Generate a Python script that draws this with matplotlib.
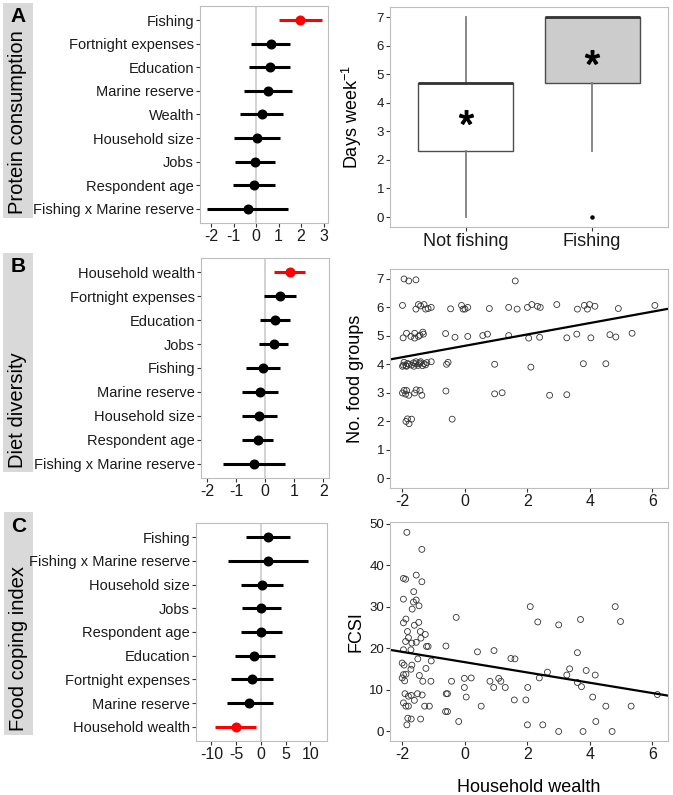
import matplotlib
matplotlib.use('Agg')
import matplotlib.pyplot as plt #use for drawing

plt.rcParams['font.family'] = 'Liberation Sans'
plt.rcParams['mathtext.fontset'] = 'custom'
plt.rcParams['mathtext.rm'] = 'Liberation Sans'
plt.rcParams['mathtext.it'] = 'Liberation Sans'
plt.rcParams['mathtext.default'] = 'regular'
plt.rcParams['axes.unicode_minus'] = False  #plain hyphen like the original

W, H = 673, 795  #figure size in pixels

#---------------- data ----------------
#A: protein consumption model (top to bottom)
a_terms = ['Fishing', 'Fortnight expenses', 'Education', 'Marine reserve', 'Wealth',
           'Household size', 'Jobs', 'Respondent age', 'Fishing x Marine reserve']
a_est = [1.97, 0.64, 0.60, 0.51, 0.25, 0.03, -0.03, -0.10, -0.37]
a_lo = [1.03, -0.25, -0.30, -0.55, -0.73, -0.97, -0.92, -1.04, -2.20]
a_hi = [2.93, 1.53, 1.49, 1.59, 1.20, 1.06, 0.86, 0.83, 1.44]
a_sig = 'Fishing'

#B: diet diversity model
b_terms = ['Household wealth', 'Fortnight expenses', 'Education', 'Jobs', 'Fishing',
           'Marine reserve', 'Household size', 'Respondent age', 'Fishing x Marine reserve']
b_est = [0.85, 0.51, 0.34, 0.30, -0.08, -0.17, -0.20, -0.25, -0.39]
b_lo = [0.31, -0.03, -0.17, -0.21, -0.67, -0.78, -0.80, -0.78, -1.46]
b_hi = [1.39, 1.05, 0.86, 0.80, 0.51, 0.45, 0.41, 0.28, 0.69]
b_sig = 'Household wealth'

#C: food coping index model
c_terms = ['Fishing', 'Fishing x Marine reserve', 'Household size', 'Jobs', 'Respondent age',
           'Education', 'Fortnight expenses', 'Marine reserve', 'Household wealth']
c_est = [1.4, 1.4, 0.2, 0.07, 0.0, -1.3, -1.75, -2.3, -5.05]
c_lo = [-3.0, -6.7, -4.0, -3.8, -4.0, -5.25, -6.1, -6.8, -9.2]
c_hi = [5.8, 9.6, 4.4, 4.1, 4.2, 2.76, 2.4, 2.36, -0.9]
c_sig = 'Household wealth'

#A right: days per week eating protein
box_groups = ['Not fishing', 'Fishing']
box_q1 = [2.3, 4.7]
box_med = [4.7, 7.0]
box_q3 = [4.7, 7.0]
box_lo = [0.0, 2.3]
box_hi = [7.0, 7.0]
box_mean = [3.5, 5.6]
box_fliers = [[], [0.0]]

#B right: household wealth vs number of food groups
wealth_b = [-1.95, -1.8, -1.57, 1.61,
            -2.0, -1.57, -1.49, -1.42, -1.31, -1.26, -1.18, -1.08, -0.46, -0.11, -0.06, 0.0, 0.09,
            0.78, 1.4, 1.67, 2.0, 2.14, 2.32, 2.41, 2.94, 3.6, 3.82, 3.92, 3.99, 4.16, 4.91, 6.08,
            -1.98, -1.87, -1.73, -1.61, -1.61, -1.49, -1.44, -1.35, -1.33, -0.62, -0.32, 0.09,
            0.57, 0.72, 1.4, 2.04, 2.39, 3.26, 3.58, 4.03, 4.64, 4.83, 5.35,
            -2.0, -1.97, -1.95, -1.89, -1.87, -1.84, -1.79, -1.71, -1.65, -1.63, -1.58, -1.57,
            -1.5, -1.47, -1.44, -1.42, -1.36, -1.31, -1.26, -1.22, -1.08, -0.59, -0.54, 0.95,
            2.11, 3.79, 4.51,
            -2.0, -1.95, -1.9, -1.87, -1.8, -1.61, -1.56, -1.44, -1.38, -0.61, 0.95, 1.19, 2.71, 3.26,
            -1.89, -1.84, -1.79, -1.71, -0.41]
groups_b = [7.0, 6.93, 6.97, 6.93,
            6.07, 5.94, 6.1, 6.05, 6.1, 5.94, 5.96, 6.0, 5.95, 6.07, 5.94, 5.94, 6.0,
            5.96, 6.0, 5.94, 6.0, 6.1, 6.04, 6.0, 6.1, 5.94, 6.07, 5.94, 6.1, 6.04, 5.96, 6.07,
            4.93, 5.09, 4.98, 5.09, 4.92, 4.98, 5.02, 5.13, 5.06, 5.08, 4.95, 4.98,
            5.01, 5.06, 5.01, 4.92, 4.95, 4.93, 5.06, 4.93, 5.04, 4.96, 5.09,
            3.93, 3.97, 4.07, 3.95, 3.93, 4.03, 4.0, 3.97, 4.05, 3.93, 4.02, 4.09,
            3.96, 4.02, 4.05, 4.09, 3.95, 4.02, 3.98, 4.06, 4.09, 4.0, 4.07, 4.0,
            3.9, 4.02, 4.02,
            2.99, 3.08, 2.95, 3.08, 2.91, 2.99, 3.1, 3.08, 2.91, 3.06, 2.96, 3.0, 2.91, 2.93,
            1.99, 2.08, 1.91, 2.07, 2.07]
b_fit = (4.65, 0.20)  #intercept, slope

#C right: household wealth vs FCSI
wealth_c = [-1.86, -1.38, -1.97, -1.9, -1.56, -1.38, -1.64, -1.97, -1.56, -1.65, -1.47, -1.69,
            -1.89, -1.97, -1.48, -1.62, -1.84, -1.43, -1.27, -1.81, -1.41, -1.9, -1.56, -1.7,
            -1.23, -1.18, -1.73, -1.97, -1.51, -1.08, -2.01, -1.95, -1.7, -1.73, -1.25, -1.97,
            -1.89, -1.46, -2.01, -1.93, -1.35, -1.09, -1.92, -1.52, -1.81, -1.72, -1.37, -1.62,
            -1.97, -1.89, -1.81, -1.29, -1.14, -1.83, -1.72, -1.42, -1.86,
            -0.6, -0.56, -0.61, -0.28, -0.62, -0.56, -0.43, -0.2, -0.02, -0.02, 0.04, 0.2, 0.4,
            0.52, 0.8, 0.92, 0.93, 1.08, 1.15, 1.29, 1.47, 1.6, 1.58, 1.95, 2.01, 2.0, 2.09,
            2.33, 2.38, 2.49, 2.64, 3.0, 3.0, 3.26, 3.35, 3.6, 3.6, 3.7, 3.73, 3.78, 3.88,
            4.09, 4.17, 4.19, 4.51, 4.71, 4.81, 4.98, 5.32, 6.16]
fcsi_c = [47.9, 43.8, 36.8, 36.6, 37.6, 36.0, 33.6, 31.8, 31.6, 31.1, 30.2, 29.4,
          27.0, 26.1, 26.2, 25.5, 24.0, 24.0, 23.3, 22.5, 22.4, 21.6, 21.4, 21.2,
          20.4, 20.4, 19.6, 19.6, 17.4, 16.9, 16.4, 15.9, 15.9, 14.9, 15.1, 13.6,
          13.7, 13.4, 12.8, 12.1, 12.0, 12.0, 9.0, 9.0, 8.4, 8.6, 8.7, 7.4,
          6.8, 6.0, 6.0, 6.0, 6.0, 3.1, 2.9, 2.9, 1.5,
          9.0, 9.0, 20.5, 27.4, 4.7, 4.7, 12.0, 2.3, 12.7, 10.5, 8.2, 12.8, 19.1,
          6.0, 12.0, 10.5, 19.4, 12.7, 12.0, 10.5, 17.5, 17.4, 7.5, 7.5, 10.5, 1.5, 30.0,
          26.3, 12.8, 1.5, 14.2, 25.6, -0.1, 13.5, 15.0, 18.9, 11.7, 26.9, 10.7, -0.1, 14.6,
          8.2, 13.5, 2.3, 6.0, -0.1, 30.0, 26.4, 6.0, 8.8]
c_fit = (16.6, -1.24)


#---------------- helpers ----------------
def add_axes_px(fig, x0, y0, x1, y1):
    #pixel box (top-left origin) -> figure axes
    return fig.add_axes([x0 / W, 1 - y1 / H, (x1 - x0) / W, (y1 - y0) / H])

def style_axes(ax):
    for s in ax.spines.values():
        s.set_color('#bdbdbd')
        s.set_linewidth(0.8)
    ax.tick_params(axis='both', direction='out', length=2.8, width=0.8, color='#333333',
                   labelcolor='#1a1a1a', pad=1.5)

def draw_coef(ax, terms, est, lo, hi, sig, xlim, xticks):
    n = len(terms)
    ypos = list(range(n, 0, -1))
    ax.axvline(0, color='#cccccc', lw=1.2, zorder=0)
    for i in range(n):
        c = 'red' if terms[i] == sig else 'black'
        ax.plot([lo[i], hi[i]], [ypos[i], ypos[i]], color=c, lw=2.2, solid_capstyle='butt')
        ax.plot(est[i], ypos[i], 'o', color=c, ms=6.2)
    ax.set_ylim(0.4, n + 0.6)
    ax.set_yticks(ypos)
    ax.set_yticklabels(terms)
    ax.set_xlim(xlim)
    ax.set_xticks(xticks)
    style_axes(ax)
    ax.tick_params(axis='y', labelsize=10.5)
    ax.tick_params(axis='x', labelsize=11.5)

def draw_strip(fig, x0, y0, x1, y1, letter, title):
    s = add_axes_px(fig, x0, y0, x1, y1)
    s.set_facecolor('#d9d9d9')
    s.set_xticks([])
    s.set_yticks([])
    for sp in s.spines.values():
        sp.set_visible(False)
    cx = (x0 + x1) / 2.0 / W
    fig.text(cx, 1 - (y0 + 14) / H, letter, fontsize=15, fontweight='bold',
             ha='center', va='center')
    fig.text(cx, 1 - (y1 - 4) / H, title, fontsize=14.5, rotation=90,
             ha='center', va='bottom')


fig = plt.figure(figsize=(W / 100, H / 100), dpi=100)

#strips with panel letters
draw_strip(fig, 3, 3, 33, 218, 'A', 'Protein consumption')
draw_strip(fig, 3, 253, 33, 472, 'B', 'Diet diversity')
draw_strip(fig, 4, 512, 33, 735, 'C', 'Food coping index')

#coefficient plots
axA = add_axes_px(fig, 200, 6, 328, 223)
draw_coef(axA, a_terms, a_est, a_lo, a_hi, a_sig, (-2.5, 3.2), [-2, -1, 0, 1, 2, 3])
axB = add_axes_px(fig, 201, 258, 329, 478)
draw_coef(axB, b_terms, b_est, b_lo, b_hi, b_sig, (-2.2, 2.2), [-2, -1, 0, 1, 2])
axC = add_axes_px(fig, 196, 523, 327, 741)
draw_coef(axC, c_terms, c_est, c_lo, c_hi, c_sig, (-13.1, 13.35), [-10, -5, 0, 5, 10])

#boxplot
axA2 = add_axes_px(fig, 390, 7, 668, 227)
stats = []
for i in range(len(box_groups)):
    stats.append(dict(label=box_groups[i], med=box_med[i], q1=box_q1[i], q3=box_q3[i],
                      whislo=box_lo[i], whishi=box_hi[i], mean=box_mean[i],
                      fliers=box_fliers[i]))
bp = axA2.bxp(stats, positions=[1, 2], widths=0.75, patch_artist=True, showcaps=False,
              showmeans=True,
              boxprops=dict(edgecolor='#4d4d4d', linewidth=1.0),
              medianprops=dict(color='#333333', linewidth=2.0),
              whiskerprops=dict(color='#7f7f7f', linewidth=1.3),
              meanprops=dict(marker='$*$', markerfacecolor='black', markeredgecolor='black',
                             markersize=10),
              flierprops=dict(marker='o', markerfacecolor='black', markeredgecolor='black',
                              markersize=2.2))
bp['boxes'][0].set_facecolor('white')
bp['boxes'][1].set_facecolor('#cccccc')
axA2.set_xlim(0.4, 2.6)
axA2.set_ylim(-0.35, 7.35)
axA2.set_yticks(range(0, 8))
style_axes(axA2)
axA2.tick_params(axis='y', labelsize=9.5)
axA2.tick_params(axis='x', labelsize=13)
axA2.set_ylabel('Days week$^{-1}$', fontsize=13)
axA2.yaxis.set_label_coords(-0.092, 0.5)

#diet diversity scatter
axB2 = add_axes_px(fig, 390, 269, 668, 488)
axB2.scatter(wealth_b, groups_b, s=18, facecolors='none', edgecolors='#333333', linewidths=0.6)
axB2.axline((0, b_fit[0]), slope=b_fit[1], color='black', lw=1.6)
axB2.set_xlim(-2.4, 6.5)
axB2.set_ylim(-0.35, 7.35)
axB2.set_xticks([-2, 0, 2, 4, 6])
axB2.set_yticks(range(0, 8))
style_axes(axB2)
axB2.tick_params(axis='y', labelsize=9.5)
axB2.tick_params(axis='x', labelsize=11.5)
axB2.set_ylabel('No. food groups', fontsize=13)
axB2.yaxis.set_label_coords(-0.092, 0.5)

#food coping scatter
axC2 = add_axes_px(fig, 390, 522, 668, 741)
axC2.scatter(wealth_c, fcsi_c, s=18, facecolors='none', edgecolors='#333333', linewidths=0.6)
axC2.axline((0, c_fit[0]), slope=c_fit[1], color='black', lw=1.6)
axC2.set_xlim(-2.4, 6.5)
axC2.set_ylim(-2.4, 50.4)
axC2.set_xticks([-2, 0, 2, 4, 6])
axC2.set_yticks([0, 10, 20, 30, 40, 50])
style_axes(axC2)
axC2.tick_params(axis='y', labelsize=9.5)
axC2.tick_params(axis='x', labelsize=11.5)
axC2.set_ylabel('FCSI', fontsize=13)
axC2.yaxis.set_label_coords(-0.092, 0.5)
fig.text(529 / W, 1 - 792 / H, 'Household wealth', fontsize=13, ha='center', va='baseline')

fig.savefig('out.png', dpi=100)
plt.close()
